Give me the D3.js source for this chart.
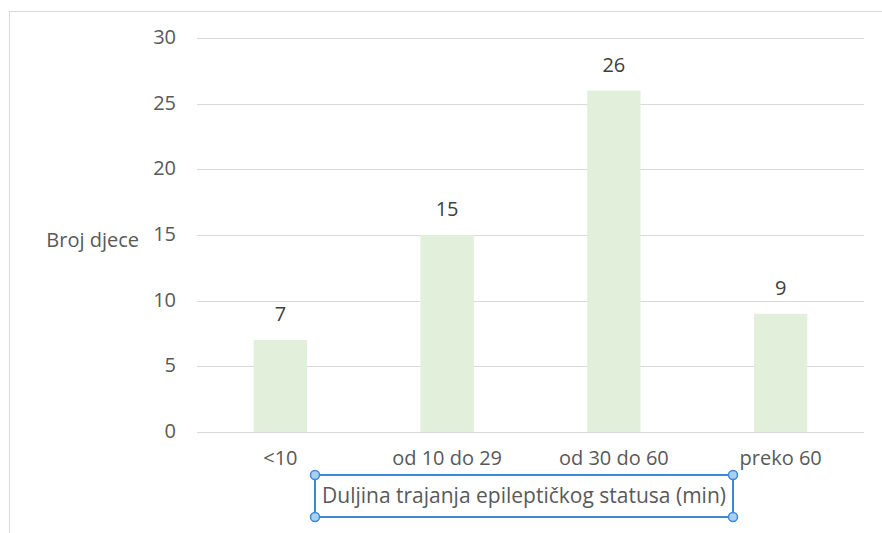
<!DOCTYPE html>
<html><head><meta charset="utf-8">
<script src="https://cdn.jsdelivr.net/npm/d3@7"></script>
<style>
body{margin:0;background:#fff;}
text{font-family:"Open Sans",sans-serif;}
</style></head>
<body><svg id="c" width="882" height="533"></svg>
<script>
const categories = ["<10", "od 10 do 29", "od 30 do 60", "preko 60"];
const values = [7, 15, 26, 9];
const yTicks = [0, 5, 10, 15, 20, 25, 30];
const yTitle = "Broj djece";
const xTitle = "Duljina trajanja epileptičkog statusa (min)";

(function () {
const FS = 20;
const svg = d3.select("#c");
// chart area border
svg.append("rect").attr("x", 9.5).attr("y", 11.5).attr("width", 890).attr("height", 540)
  .attr("fill", "#fff").attr("stroke", "#d9d9d9").attr("stroke-width", 1);

const pL = 197, pR = 864, pT = 38, pB = 432;
const x = d3.scaleBand().domain(categories).range([pL, pR]).paddingInner(0.68).paddingOuter(0.34);
const y = d3.scaleLinear().domain([0, 30]).range([pB, pT]);

// gridlines
svg.append("g").selectAll("line").data(yTicks).join("line")
  .attr("x1", pL).attr("x2", pR)
  .attr("y1", d => Math.round(y(d)) + 0.5).attr("y2", d => Math.round(y(d)) + 0.5)
  .attr("stroke", "#d9d9d9").attr("stroke-width", 1);

// y axis labels
const yAxis = d3.axisLeft(y).tickValues(yTicks).tickSize(0).tickPadding(0);
const ga = svg.append("g").attr("transform", `translate(176,-1)`).call(yAxis);
ga.select(".domain").remove();
ga.selectAll("text").attr("font-size", FS).attr("fill", "#595959").attr("font-family", "'Open Sans',sans-serif");

// bars
svg.append("g").selectAll("rect").data(values).join("rect")
  .attr("x", (d, i) => x(categories[i])).attr("width", x.bandwidth())
  .attr("y", d => y(d)).attr("height", d => y(0) - y(d))
  .attr("fill", "#e2efda");

// value labels
svg.append("g").selectAll("text").data(values).join("text")
  .attr("x", (d, i) => x(categories[i]) + x.bandwidth() / 2)
  .attr("y", d => y(d) - 19)
  .attr("text-anchor", "middle").attr("font-size", FS).attr("fill", "#404040")
  .text(d => d);

// x axis labels
const xAxis = d3.axisBottom(x).tickSize(0).tickPadding(0);
const gx = svg.append("g").attr("transform", `translate(0,${pB + 19})`).call(xAxis);
gx.select(".domain").remove();
gx.selectAll("text").attr("font-size", FS).attr("fill", "#595959").attr("font-family", "'Open Sans',sans-serif");

// y title
svg.append("text").attr("x", 139).attr("y", 247).attr("text-anchor", "end")
  .attr("font-size", FS).attr("fill", "#595959").text(yTitle);

// x title with selection box
const bx0 = 315, bx1 = 733, by0 = 475, by1 = 517;
svg.append("rect").attr("x", bx0).attr("y", by0).attr("width", bx1 - bx0).attr("height", by1 - by0)
  .attr("fill", "none").attr("stroke", "#3b8ad9").attr("stroke-width", 2);
svg.append("text").attr("x", (bx0 + bx1) / 2).attr("y", 503).attr("text-anchor", "middle")
  .attr("font-size", 21).attr("fill", "#595959").text(xTitle);
[[bx0, by0], [bx1, by0], [bx0, by1], [bx1, by1]].forEach(([cx, cy]) => {
  svg.append("circle").attr("cx", cx).attr("cy", cy).attr("r", 4.5)
    .attr("fill", "#a9d0f5").attr("stroke", "#3b8ad9").attr("stroke-width", 1.5);
});
})();
</script></body></html>
